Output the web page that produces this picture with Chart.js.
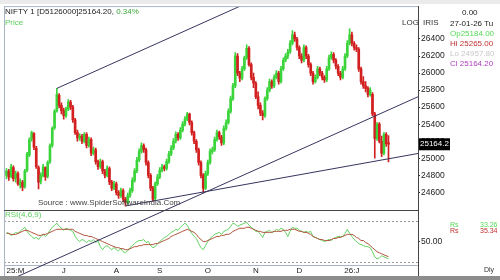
<!DOCTYPE html>
<html>
<head>
<meta charset="utf-8">
<script src="https://cdn.jsdelivr.net/npm/chart.js@4.4.1/dist/chart.umd.min.js"></script>
<style>
  html, body { margin: 0; padding: 0; background: #fff; }
  #wrap { position: relative; width: 500px; height: 280px; }
</style>
</head>
<body>
<div id="wrap"><canvas id="niftyChart" width="500" height="280"></canvas></div>
<script>
// daily candles, late May 2025 -> 27 Jan 2026
const opens = [
  24800, 24850, 24790, 24890, 24770, 24820, 24690, 24720, 24670, 24860,
  25040, 25230, 25290, 25120, 24890, 24730, 24800, 24890, 24790, 24960,
  25150, 25360, 25560, 25740, 25620, 25560, 25500, 25580, 25660, 25600,
  25450, 25300, 25240, 25260, 25200, 25280, 25150, 25220, 25060, 25100,
  24960, 24900, 24960, 24850, 24800, 24880, 24720, 24650, 24700, 24600,
  24560, 24620, 24520, 24480, 24560, 24620, 24740, 24850, 24980, 25080,
  25150, 25100, 24950, 24800, 24650, 24530, 24700, 24780, 24860, 24900,
  24880, 24960, 25050, 25120, 25200, 25280, 25240, 25330, 25400, 25460,
  25520, 25420, 25300, 25200, 25100, 24950, 24800, 24650, 24820, 24950,
  25080, 25100, 25220, 25300, 25250, 25180, 25350, 25420, 25550, 25700,
  25850, 26200, 26000, 25940, 26050, 26180, 26290, 26100, 25950, 25880,
  25720, 25620, 25530, 25500, 25700, 25800, 25900, 25850, 25950, 26000,
  25900, 26050, 26150, 26200, 26250, 26350, 26450, 26400, 26300, 26200,
  26150, 26300, 26200, 26100, 26000, 25900, 25950, 26050, 26000, 25950,
  25920, 26050, 26180, 26220, 26150, 26080, 26000, 25950, 26050, 26200,
  26350, 26450, 26350, 26300, 26280, 26050, 25900, 25850, 25820, 25750,
  25750, 25520, 25230, 25400, 25200, 25060, 25280, 25184
];
const highs = [
  24880, 24870, 24930, 24910, 24850, 24840, 24760, 24740, 24870, 25070,
  25240, 25320, 25300, 25140, 24910, 24830, 24930, 24900, 24970, 25170,
  25370, 25570, 25820, 25760, 25650, 25590, 25600, 25690, 25680, 25620,
  25470, 25330, 25290, 25280, 25300, 25300, 25250, 25240, 25130, 25120,
  24980, 24990, 24980, 24870, 24910, 24900, 24740, 24730, 24720, 24620,
  24650, 24640, 24540, 24590, 24650, 24770, 24880, 25010, 25110, 25180,
  25170, 25120, 24970, 24820, 24670, 24720, 24810, 24890, 24930, 24920,
  24990, 25080, 25150, 25230, 25310, 25300, 25360, 25430, 25490, 25540,
  25530, 25440, 25320, 25220, 25120, 24970, 24820, 24850, 24980, 25110,
  25130, 25250, 25330, 25320, 25270, 25380, 25450, 25580, 25730, 25880,
  26240, 26230, 26020, 26080, 26200, 26330, 26310, 26120, 26000, 25900,
  25780, 25650, 25560, 25720, 25830, 25930, 25920, 25980, 26030, 26020,
  26080, 26180, 26230, 26280, 26380, 26500, 26480, 26420, 26320, 26230,
  26330, 26320, 26220, 26120, 26020, 25980, 26080, 26070, 26020, 25970,
  26080, 26210, 26250, 26240, 26170, 26100, 26020, 26080, 26230, 26380,
  26520, 26480, 26370, 26330, 26300, 26070, 25960, 25900, 25840, 25830,
  25770, 25540, 25420, 25420, 25260, 25300, 25300, 25265
];
const lows = [
  24760, 24740, 24770, 24730, 24720, 24680, 24650, 24620, 24650, 24840,
  25020, 25200, 25100, 24880, 24640, 24700, 24780, 24740, 24770, 24940,
  25130, 25340, 25540, 25590, 25520, 25460, 25480, 25560, 25570, 25420,
  25280, 25200, 25210, 25170, 25180, 25120, 25130, 25030, 25040, 24930,
  24870, 24880, 24820, 24770, 24780, 24690, 24620, 24630, 24570, 24530,
  24540, 24490, 24440, 24460, 24540, 24600, 24720, 24830, 24960, 25060,
  25070, 24920, 24770, 24620, 24500, 24510, 24680, 24760, 24840, 24850,
  24860, 24940, 25030, 25100, 25180, 25210, 25220, 25310, 25380, 25440,
  25390, 25270, 25170, 25070, 24920, 24770, 24600, 24630, 24800, 24930,
  25050, 25080, 25200, 25220, 25150, 25160, 25330, 25400, 25530, 25680,
  25830, 25970, 25900, 25920, 26030, 26160, 26080, 25920, 25830, 25700,
  25580, 25500, 25450, 25480, 25680, 25780, 25820, 25830, 25930, 25870,
  25880, 26030, 26130, 26170, 26230, 26330, 26370, 26270, 26170, 26120,
  26130, 26170, 26070, 25970, 25870, 25880, 25930, 25970, 25920, 25890,
  25900, 26030, 26160, 26120, 26050, 25970, 25920, 25930, 26030, 26180,
  26330, 26320, 26270, 26250, 26020, 25870, 25820, 25780, 25720, 25730,
  25500, 25000, 25210, 25180, 25020, 25040, 25140, 24957
];
const closes = [
  24850, 24780, 24900, 24760, 24820, 24700, 24720, 24660, 24850, 25050,
  25220, 25300, 25130, 24900, 24720, 24800, 24900, 24780, 24950, 25150,
  25350, 25550, 25750, 25620, 25560, 25500, 25580, 25660, 25600, 25450,
  25300, 25240, 25260, 25200, 25280, 25150, 25220, 25060, 25100, 24960,
  24900, 24960, 24850, 24800, 24880, 24720, 24650, 24700, 24600, 24560,
  24620, 24520, 24480, 24560, 24620, 24740, 24850, 24980, 25080, 25150,
  25100, 24950, 24800, 24650, 24520, 24700, 24780, 24860, 24900, 24880,
  24960, 25050, 25120, 25200, 25280, 25240, 25330, 25400, 25460, 25520,
  25420, 25300, 25200, 25100, 24950, 24800, 24650, 24820, 24950, 25080,
  25100, 25220, 25300, 25250, 25180, 25350, 25420, 25550, 25700, 25850,
  26200, 26000, 25940, 26050, 26180, 26290, 26100, 25950, 25880, 25720,
  25620, 25530, 25500, 25700, 25800, 25900, 25850, 25950, 26000, 25900,
  26050, 26150, 26200, 26250, 26350, 26450, 26400, 26300, 26200, 26150,
  26300, 26200, 26100, 26000, 25900, 25950, 26050, 26000, 25950, 25920,
  26050, 26180, 26220, 26150, 26080, 26000, 25950, 26050, 26200, 26350,
  26450, 26350, 26300, 26280, 26050, 25900, 25850, 25820, 25750, 25800,
  25520, 25230, 25400, 25200, 25060, 25280, 25170, 25164.2
];
// RSI(4) and its signal line
const rsiFast = [
  59, 58, 56, 57, 59, 58, 60, 62, 64, 60,
  57, 55, 53, 54, 52, 55, 57, 55, 57, 61,
  64, 66, 68, 65, 63, 61, 63, 62, 61, 60,
  55, 52, 50, 52, 51, 49, 51, 50, 52, 49,
  51, 45, 42, 45, 46, 44, 42, 44, 42, 41,
  43, 40, 39, 41, 44, 46, 48, 50, 51, 51,
  52, 49, 50, 46, 44, 45, 48, 50, 52, 54,
  55, 57, 59, 60, 62, 61, 64, 66, 68, 66,
  62, 58, 55, 53, 48, 44, 42, 46, 50, 53,
  55, 57, 58, 59, 57, 60, 61, 62, 65, 68,
  67, 65, 66, 67, 68, 69, 66, 64, 62, 60,
  60, 57, 54, 59, 60, 61, 59, 60, 62, 61,
  63, 62, 59, 55, 60, 64, 63, 63, 61, 60,
  59, 60, 59, 60, 55, 54, 53, 52, 51, 50,
  51, 52, 51, 53, 54, 55, 55, 55, 58, 62,
  58, 55, 52, 50, 48, 47, 46, 45, 45, 44,
  40, 35, 33, 34, 36, 35, 34, 33.26
];
const rsiSlow = [
  58, 58, 57, 57, 57, 58, 59, 60, 61, 61,
  60, 59, 58, 57, 56, 56, 57, 57, 58, 59,
  60, 61, 62, 62, 62, 62, 62, 62, 62, 62,
  60, 59, 58, 57, 56, 56, 55, 55, 54, 53,
  52, 51, 50, 49, 48, 47, 46, 45, 44, 44,
  43, 43, 42, 42, 43, 44, 45, 45, 46, 46,
  47, 47, 47, 47, 47, 48, 48, 49, 50, 51,
  52, 53, 55, 56, 57, 58, 59, 60, 61, 62,
  61, 60, 59, 57, 54, 52, 50, 50, 51, 52,
  53, 54, 55, 55, 56, 56, 57, 57, 58, 60,
  61, 62, 63, 63, 63, 64, 64, 63, 62, 61,
  60, 60, 59, 59, 59, 59, 59, 60, 60, 60,
  60, 61, 61, 61, 62, 62, 62, 61, 60, 60,
  59, 59, 58, 57, 55, 54, 53, 52, 52, 51,
  51, 51, 52, 53, 53, 54, 54, 55, 56, 57,
  57, 57, 56, 54, 53, 51, 51, 49, 48, 46,
  44, 42, 40, 39, 38, 37, 36, 35.34
];

const monthTickIdx = [0, 25, 48, 67, 88, 109, 128, 151];
const monthTickText = ["25:M", "J", "A", "S", "O", "N", "D", "26:J"];
const priceTicks = [24600, 24800, 25000, 25200, 25400, 25600, 25800, 26000, 26200, 26400];
const rsiTicks = [50];
const rsiLevels = [70, 30];

// trendlines, in (candle index, price)
const channelTop = [{ x: 22, y: 25820 }, { x: 104, y: 26808 }];
const channelBottom = [{ x: 5, y: 23614 }, { x: 179.9, y: 25722 }];
const supportLine = [{ x: 52, y: 24440 }, { x: 179.9, y: 25056 }];

const FONT = "'Liberation Sans', Arial, sans-serif";
const upColor = "#3bd43b";
const downColor = "#d22020";
const trendColor = "#35355f";

const candleColors = closes.map((c, i) => (c >= opens[i] ? upColor : downColor));
const wickData = closes.map((c, i) => ({ x: i, y: [lows[i], highs[i]] }));
const bodyData = closes.map((c, i) => ({ x: i, y: [opens[i], c] }));
const fastData = rsiFast.map((v, i) => ({ x: i, y: v }));
const slowData = rsiSlow.map((v, i) => ({ x: i, y: v }));

const panelDecor = {
  id: "panelDecor",
  beforeDraw(chart) {
    const { ctx, chartArea: area, scales } = chart;
    ctx.save();
    ctx.fillStyle = "#ffffff";
    ctx.fillRect(0, 0, chart.width, chart.height);
    ctx.strokeStyle = "#9a9a9a";
    ctx.lineWidth = 1;
    ctx.setLineDash([2, 2]);
    rsiLevels.forEach((lvl) => {
      const y = Math.round(scales.rsi.getPixelForValue(lvl)) + 0.5;
      ctx.beginPath();
      ctx.moveTo(area.left, y);
      ctx.lineTo(area.right, y);
      ctx.stroke();
    });
    ctx.restore();
  },
  afterDraw(chart) {
    const { ctx, chartArea: area, scales } = chart;
    ctx.save();
    // strips at top and bottom of the screenshot
    ctx.fillStyle = "#ebebeb";
    ctx.fillRect(0, 0, chart.width, 4);
    ctx.fillStyle = "#8c8c8c";
    ctx.fillRect(0, 276, chart.width, 4);

    // frame
    ctx.lineWidth = 1;
    ctx.strokeStyle = "#a9b5c7";
    ctx.beginPath();
    ctx.moveTo(area.left + 0.5, area.top);
    ctx.lineTo(area.left + 0.5, 276);
    ctx.moveTo(area.left, area.top + 0.5);
    ctx.lineTo(area.right, area.top + 0.5);
    ctx.stroke();
    ctx.strokeStyle = "#444";
    const sepY = Math.round(scales.y.bottom) + 0.5;
    ctx.beginPath();
    ctx.moveTo(area.left, sepY);
    ctx.lineTo(area.right, sepY);
    ctx.moveTo(Math.round(area.right) + 0.5, area.top);
    ctx.lineTo(Math.round(area.right) + 0.5, 276);
    ctx.stroke();

    // header
    ctx.textBaseline = "middle";
    ctx.textAlign = "left";
    ctx.font = "8px " + FONT;
    const head = "NIFTY 1 [D5126000]25164.20, ";
    ctx.fillStyle = "#222";
    ctx.fillText(head, 5, 12);
    ctx.fillStyle = "#3aa63a";
    ctx.fillText("0.34%", 5 + ctx.measureText(head).width, 12);
    ctx.fillStyle = "#5ccf5c";
    ctx.fillText("Price", 5, 23);
    ctx.fillStyle = "#444";
    ctx.fillText("Source : www.SpiderSoftwareIndia.Com", 38, 203);
    ctx.fillStyle = "#5ccf5c";
    ctx.fillText("RSI(4,6,9)", 5, 215);
    ctx.fillStyle = "#333";
    ctx.fillText("LOG", 402, 23);
    ctx.fillText("IRIS", 423, 23);

    // info box
    ctx.fillStyle = "#222";
    ctx.fillText("0.00", 462, 13);
    ctx.fillText("27-01-26 Tu", 450, 24);
    ctx.fillStyle = "#55d855";
    ctx.fillText("Op25184.00", 450, 34);
    ctx.fillStyle = "#c03030";
    ctx.fillText("Hi 25265.00", 450, 44);
    ctx.fillStyle = "#c8c8c8";
    ctx.fillText("Lo 24957.80", 450, 54);
    ctx.fillStyle = "#b040c0";
    ctx.fillText("Cl 25164.20", 450, 64);

    ctx.font = "7px " + FONT;
    ctx.fillStyle = "#55d855";
    ctx.fillText("Rs", 450, 225);
    ctx.fillText(rsiFast[rsiFast.length - 1].toFixed(2), 480, 225);
    ctx.fillStyle = "#c03030";
    ctx.fillText("Rs", 450, 231);
    ctx.fillText(rsiSlow[rsiSlow.length - 1].toFixed(2), 480, 231);
    ctx.fillStyle = "#333";
    ctx.fillText("Dly", 484, 270);

    // last price marker
    const lastY = scales.y.getPixelForValue(closes[closes.length - 1]);
    ctx.fillStyle = "#000";
    ctx.fillRect(area.right + 1, lastY - 6, 31, 12);
    ctx.fillStyle = "#fff";
    ctx.font = "8px " + FONT;
    ctx.fillText("25164.2", area.right + 2, lastY);
    ctx.restore();
  },
};

const tickFont = { family: FONT, size: 8.5 };

new Chart(document.getElementById("niftyChart"), {
  type: "bar",
  data: {
    datasets: [
      { type: "line", data: channelTop, borderColor: trendColor, borderWidth: 1, pointRadius: 0, yAxisID: "y", order: 0 },
      // this one runs on through the RSI pane, so let it spill below the price pane
      { type: "line", data: channelBottom, borderColor: trendColor, borderWidth: 1, pointRadius: 0, yAxisID: "y", order: 0,
        clip: { left: 0, top: 0, right: 0, bottom: 66 } },
      { type: "line", data: supportLine, borderColor: trendColor, borderWidth: 1, pointRadius: 0, yAxisID: "y", order: 0 },
      { data: bodyData, backgroundColor: candleColors, barThickness: 2, minBarLength: 1, grouped: false, yAxisID: "y", order: 1 },
      { data: wickData, backgroundColor: candleColors, barThickness: 1, grouped: false, yAxisID: "y", order: 2 },
      { type: "line", data: slowData, borderColor: "#b0523a", borderWidth: 1, pointRadius: 0, yAxisID: "rsi", order: 3 },
      { type: "line", data: fastData, borderColor: "#62d362", borderWidth: 1, pointRadius: 0, yAxisID: "rsi", order: 4 },
    ],
  },
  options: {
    responsive: false,
    animation: false,
    layout: { padding: { left: 4, top: 5, right: 0, bottom: 4 } },
    plugins: { legend: { display: false }, tooltip: { enabled: false } },
    scales: {
      x: {
        type: "linear",
        min: -1.1,
        max: 179.9,
        offset: false,
        grid: { display: false, drawTicks: false, tickLength: 0 },
        border: { display: true, color: "#a9b5c7" },
        ticks: {
          autoSkip: false,
          maxRotation: 0,
          align: "inner",
          padding: 1,
          color: "#222",
          font: { family: FONT, size: 8 },
          callback: (v, i) => monthTickText[i] ?? "",
        },
        afterBuildTicks: (s) => {
          s.ticks = monthTickIdx.map((v) => ({ value: v })).concat([{ value: 179.9 }]);
        },
        afterFit: (s) => { s.height = 11; },
      },
      y: {
        type: "linear",
        position: "right",
        stack: "panels",
        stackWeight: 205,
        min: 24390,
        max: 26786,
        grid: { display: true, drawOnChartArea: false, tickLength: 2, color: "#333" },
        border: { display: true, color: "#444" },
        ticks: { autoSkip: false, padding: 1, color: "#222", font: tickFont, callback: (v) => String(v) },
        afterBuildTicks: (s) => { s.ticks = priceTicks.map((v) => ({ value: v })); },
        afterFit: (s) => { s.width = 82; },
      },
      rsi: {
        type: "linear",
        position: "right",
        stack: "panels",
        stackWeight: 55,
        min: 27,
        max: 80.7,
        grid: { display: true, drawOnChartArea: false, tickLength: 2, color: "#333" },
        border: { display: true, color: "#444" },
        ticks: { autoSkip: false, padding: 1, color: "#222", font: tickFont, callback: (v) => v.toFixed(2) },
        afterBuildTicks: (s) => { s.ticks = rsiTicks.map((v) => ({ value: v })); },
        afterFit: (s) => { s.width = 82; },
      },
    },
  },
  plugins: [panelDecor],
});
</script>
</body>
</html>
